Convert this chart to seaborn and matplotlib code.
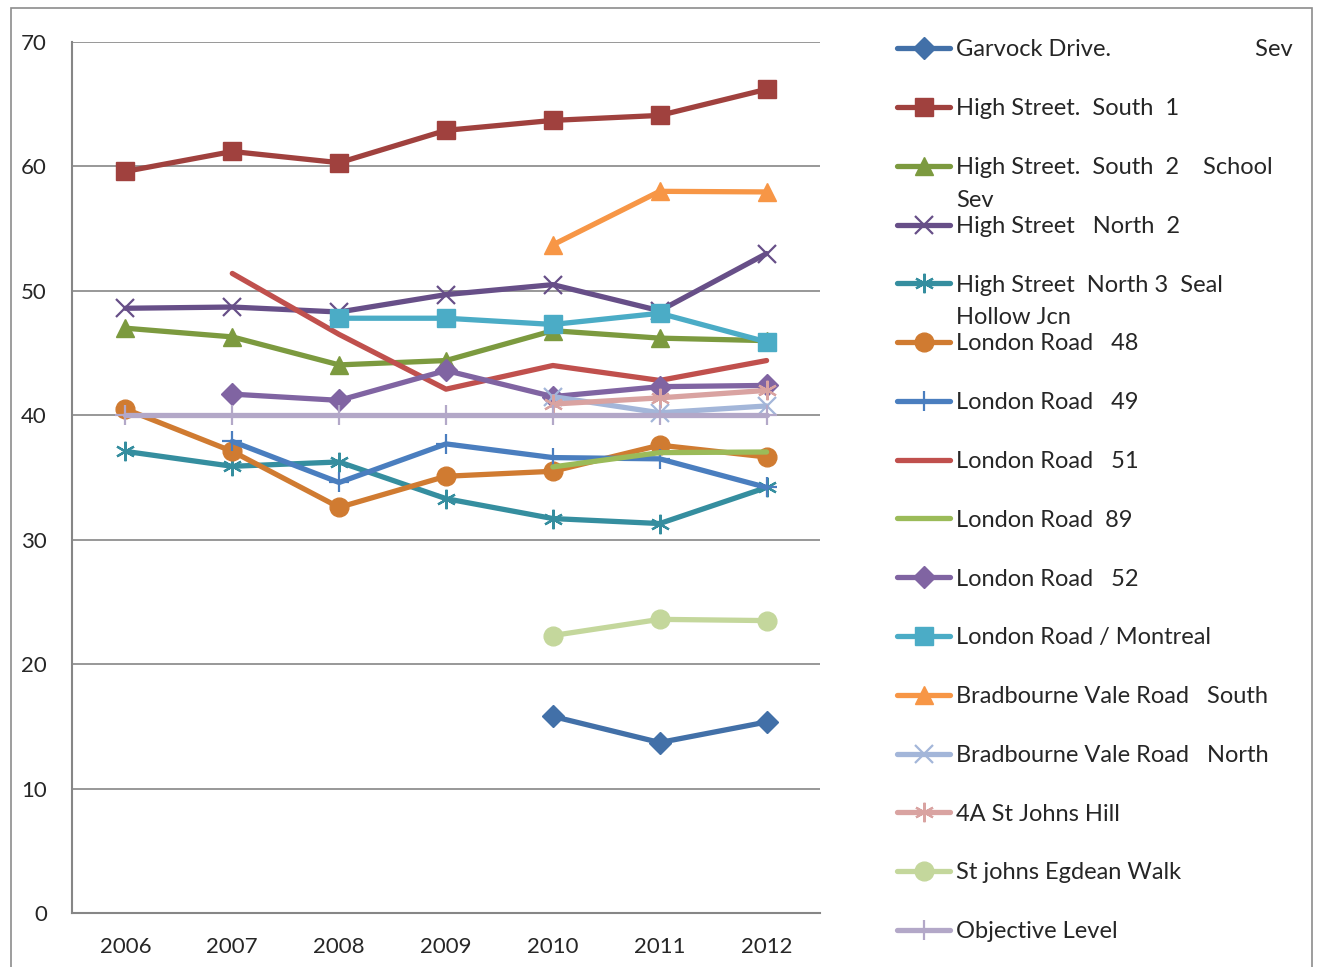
import numpy as np
import pandas as pd
import matplotlib
matplotlib.use("Agg")
import matplotlib.pyplot as plt
import seaborn as sns
from matplotlib.patches import Rectangle

sns.set_theme(style="white")
plt.rcParams['font.family'] = ['Lato', 'DejaVu Sans']

# Dati (anni e valori per ogni sito)
years = [2006, 2007, 2008, 2009, 2010, 2011, 2012]

garvock = [None, None, None, None, 15.8, 13.7, 15.35]
high_s1 = [59.6, 61.2, 60.3, 62.9, 63.7, 64.1, 66.2]
high_s2 = [47.0, 46.3, 44.05, 44.4, 46.8, 46.2, 46.0]
high_n2 = [48.6, 48.7, 48.3, 49.7, 50.5, 48.4, 53.0]
high_n3 = [37.1, 35.9, 36.25, 33.3, 31.7, 31.3, 34.2]
london_48 = [40.5, 37.1, 32.6, 35.1, 35.5, 37.6, 36.65]
london_49 = [None, 37.9, 34.6, 37.7, 36.6, 36.5, 34.2]
london_51 = [None, 51.4, 46.5, 42.1, 44.0, 42.8, 44.4]
london_89 = [None, None, None, None, 35.85, 37.0, 37.05]
london_52 = [None, 41.7, 41.2, 43.6, 41.5, 42.3, 42.4]
montreal = [None, None, 47.8, 47.8, 47.3, 48.2, 45.9]
brad_south = [None, None, None, None, 53.7, 58.0, 57.95]
brad_north = [None, None, None, None, 41.5, 40.2, 40.75]
st_johns_hill = [None, None, None, None, 40.9, 41.4, 42.0]
egdean = [None, None, None, None, 22.3, 23.6, 23.5]
objective = [40, 40, 40, 40, 40, 40, 40]

labels = [
    "Garvock Drive.                        Sev",
    "High Street.  South  1",
    "High Street.  South  2    School",
    "High Street   North  2",
    "High Street  North 3  Seal",
    "London Road   48",
    "London Road   49",
    "London Road   51",
    "London Road  89",
    "London Road   52",
    "London Road / Montreal",
    "Bradbourne Vale Road   South",
    "Bradbourne Vale Road   North",
    "4A St Johns Hill",
    "St johns Egdean Walk",
    "Objective Level",
]
# seconda riga delle etichette che vanno a capo
wrapped = {2: "Sev", 4: "Hollow Jcn"}

series = [garvock, high_s1, high_s2, high_n2, high_n3, london_48, london_49,
          london_51, london_89, london_52, montreal, brad_south, brad_north,
          st_johns_hill, egdean, objective]

colors = ['#4270A8', '#A0413E', '#7C9A3F', '#674F88', '#358E9F', '#D07B31',
          '#4A7EBF', '#C0504D', '#9BBB59', '#8064A2', '#4BACC6', '#F79646',
          '#A3B6D9', '#D9A3A1', '#C4D79C', '#B3A8C8']
markers = ['D', 's', '^', 'x', (6, 2, 0), 'o', '+', None, None, 'D', 's', '^',
           'x', (6, 2, 0), 'o', '+']
msizes = [11, 12.5, 13, 13, 14, 13.5, 14, 0, 0, 11, 12.5, 13, 13, 14, 13.5, 14]

fig = plt.figure(figsize=(13.19, 9.67), dpi=100)
ax = fig.add_axes([72 / 1319, 54 / 967, 748 / 1319, 871 / 967])

# Bordo esterno del grafico
fig.patches.append(Rectangle((11 / 1319, -0.05), 1301 / 1319, (1 - 8 / 967) + 0.05,
                             transform=fig.transFigure, fill=False,
                             edgecolor='#8C8C8C', linewidth=1.2, zorder=0))

for i, (vals, lab) in enumerate(zip(series, labels)):
    df = pd.DataFrame({'year': years, 'value': vals}).dropna()
    lw_m = 1.6 if markers[i] in ('x', '+', (6, 2, 0)) else 1.0
    sns.lineplot(data=df, x='year', y='value', ax=ax, color=colors[i],
                 linewidth=3.8, marker=markers[i], markersize=msizes[i],
                 markeredgecolor=colors[i], markeredgewidth=lw_m,
                 label=lab, zorder=3 + i, solid_capstyle='round')

ax.set_xlim(2005.5, 2012.5)
ax.set_ylim(0, 70)
ax.set_yticks(np.arange(0, 71, 10))
ax.set_xticks(np.arange(2005.5, 2013, 1))
ax.set_xticklabels([])
ax.set_xticks(years, minor=True)
ax.set_xticklabels([str(y) for y in years], minor=True)
ax.tick_params(axis='x', which='major', length=6, width=1.5, color='#868686',
               direction='out')
ax.tick_params(axis='x', which='minor', length=0, pad=17.5, labelsize=16)
ax.tick_params(axis='y', length=6, width=1.5, color='#868686', direction='out',
               pad=12, labelsize=16)
ax.yaxis.grid(True, color='#868686', linewidth=1.2)
ax.xaxis.grid(False)
ax.set_axisbelow(True)
for s in ['top', 'right']:
    ax.spines[s].set_visible(False)
for s in ['left', 'bottom']:
    ax.spines[s].set_color('#868686')
    ax.spines[s].set_linewidth(1.5)
ax.set_xlabel('')
ax.set_ylabel('')

handles, labs = ax.get_legend_handles_labels()
ax.get_legend().remove()
leg = fig.legend(handles, labs, loc='upper left',
                 bbox_to_anchor=(897 / 1319, 1 - 39.5 / 967), frameon=False,
                 fontsize=17, handlelength=2.25, handletextpad=0.25,
                 labelspacing=1.6, borderpad=0, borderaxespad=0)

# righe a capo sotto le etichette lunghe
fig.canvas.draw()
renderer = fig.canvas.get_renderer()
texts = leg.get_texts()
for idx, extra in wrapped.items():
    bb = texts[idx].get_window_extent(renderer)
    fig.text(bb.x0 / 1319, (bb.y0 + bb.y1) / 2 / 967 - 32.5 / 967, extra,
             ha='left', va='center', fontsize=17)

fig.savefig('out.png', dpi=100)
